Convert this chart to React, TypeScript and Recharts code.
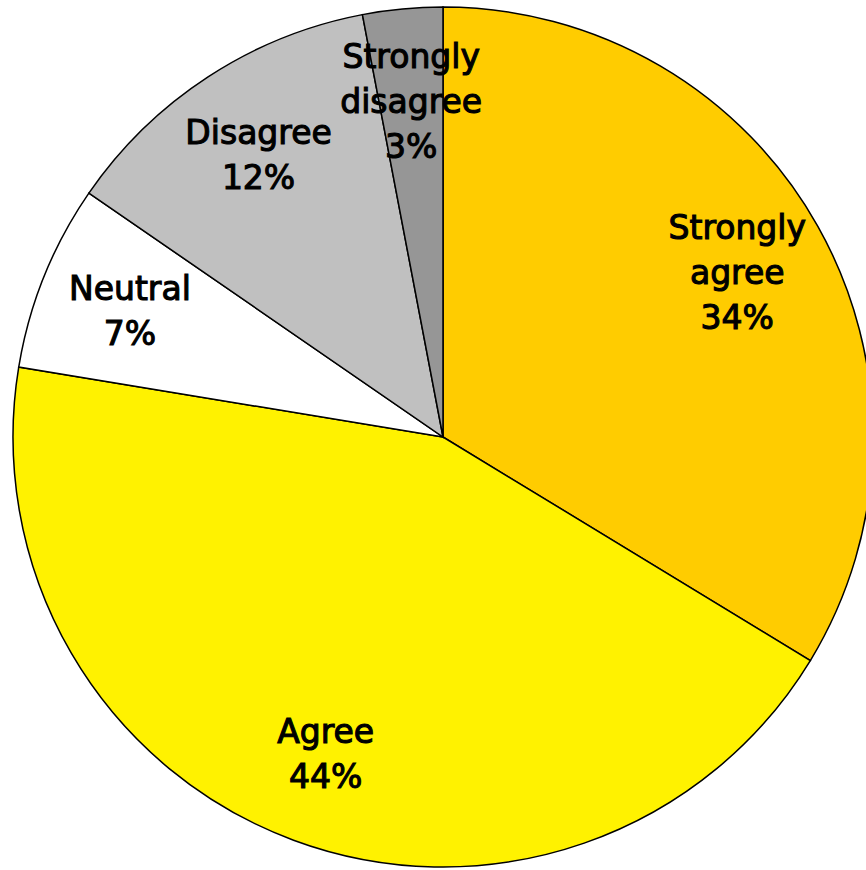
import React from "react";
import { PieChart, Pie, Cell } from "recharts";

const categories = ["Strongly agree", "Agree", "Neutral", "Disagree", "Strongly disagree"];
const shares = [33.7, 43.9, 7.0, 12.4, 3.0];
const colors = ["#FFCC00", "#FFF200", "#FFFFFF", "#C0C0C0", "#969696"];

const data = categories.map((name, i) => ({ name, value: shares[i] }));

const RAD = Math.PI / 180;
const LINE_H = 45;
const FONT_SIZE = 33;

const renderLabel = (props: any) => {
  const { cx, cy, midAngle, outerRadius, percent, name } = props;
  const r = outerRadius * 0.785;
  const x = cx + r * Math.cos(-midAngle * RAD);
  const y = cy + r * Math.sin(-midAngle * RAD);
  const lines = [...String(name).split(" "), `${Math.round(percent * 100)}%`];
  const firstBaseline = y - ((lines.length - 1) * LINE_H) / 2 + 12;
  return (
    <text
      textAnchor="middle"
      fontFamily="'DejaVu Sans', Verdana, sans-serif"
      fontSize={FONT_SIZE}
      fill="#000"
      stroke="#000"
      strokeWidth={1.1}
    >
      {lines.map((t, i) => (
        <tspan key={i} x={x} y={firstBaseline + i * LINE_H}>
          {t}
        </tspan>
      ))}
    </text>
  );
};

export default function App() {
  return (
    <div
      style={{
        position: "absolute",
        left: 0,
        top: 0,
        width: 866,
        height: 870,
        overflow: "hidden",
        background: "#fff",
      }}
    >
      <PieChart width={866} height={870} margin={{ top: 0, right: 0, bottom: 0, left: 0 }}>
        <Pie
          data={data}
          dataKey="value"
          nameKey="name"
          cx={443}
          cy={437}
          outerRadius={430}
          startAngle={90}
          endAngle={-270}
          stroke="#000"
          strokeWidth={1.5}
          label={renderLabel}
          labelLine={false}
          isAnimationActive={false}
        >
          {data.map((d, i) => (
            <Cell key={d.name} fill={colors[i]} />
          ))}
        </Pie>
      </PieChart>
    </div>
  );
}
